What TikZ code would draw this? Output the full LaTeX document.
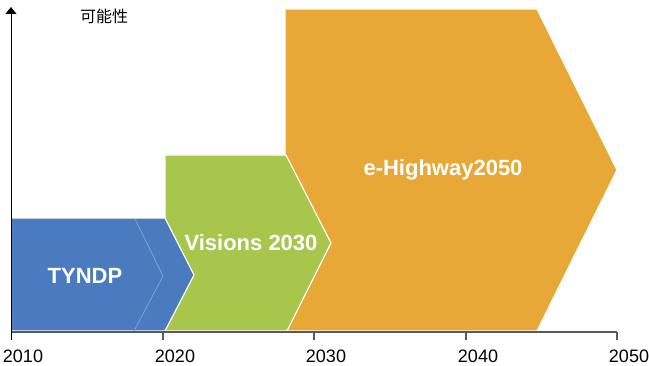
\documentclass[tikz,border=0pt]{standalone}
\usepackage{fontspec}
\setmainfont{Liberation Sans}
\newfontfamily\cjk{Noto Sans CJK SC}
\usetikzlibrary{arrows.meta}
\definecolor{cblue}{RGB}{74,123,190}
\definecolor{clightblue}{RGB}{118,160,215}
\definecolor{cgreen}{RGB}{168,198,76}
\definecolor{corange}{RGB}{232,168,56}
\definecolor{caxis}{RGB}{90,90,90}
\begin{document}
\begin{tikzpicture}[x=1pt,y=-1pt,
  chev/.style={draw=white,line width=1.2pt,line join=miter},
  lbl/.style={text=white,font=\fontsize{22}{26}\selectfont\bfseries},
  yr/.style={font=\fontsize{18}{20}\selectfont,text=black},
  tickline/.style={draw=caxis,line width=1.1pt}]
\useasboundingbox (0,0) rectangle (650,366);
% chevrons
\path[chev,fill=corange] (285,9) -- (537,9) -- (617,170) -- (537,331) -- (285,331) -- cycle;
\path[chev,fill=cgreen] (165,155) -- (286,155) -- (331,243) -- (287,331) -- (165,331) -- cycle;
\path[chev,fill=cblue] (11,218) -- (165,218) -- (194,275) -- (165,331) -- (11,331) -- cycle;
\draw[clightblue,line width=0.9pt] (135,219) -- (163,276) -- (134,331);
% labels
\node[lbl] (tyndp) at (85,276) {TYNDP};
\node[lbl] (vis) at (251,243) {Visions 2030};
\node[lbl] (ehw) at (443,170) {e-Highway2050};
% axes
\coordinate (o) at (11,332);
\coordinate (xe) at (617,332);
\coordinate (yb) at (11,340);
\coordinate (ye) at (11,7);
\draw[tickline] (o) -- (xe);
\draw[black,line width=1pt,-{Triangle[width=11pt,length=7pt]}] (yb) -- (ye);
\foreach \x/\t in {163/2020,314/2030,466/2040,617/2050}{
  \draw[tickline] (\x,332) -- (\x,340);
}
\foreach \x/\t/\n in {11/2010/a,163/2020/b,314/2030/c,466/2040/d,617/2050/e}{
  \node[yr] (yr\n) at (\x+12,356) {\t};
}
\node[font=\cjk\fontsize{16}{18}\selectfont] (ylab) at (104,16) {可能性};
\end{tikzpicture}
\end{document}
